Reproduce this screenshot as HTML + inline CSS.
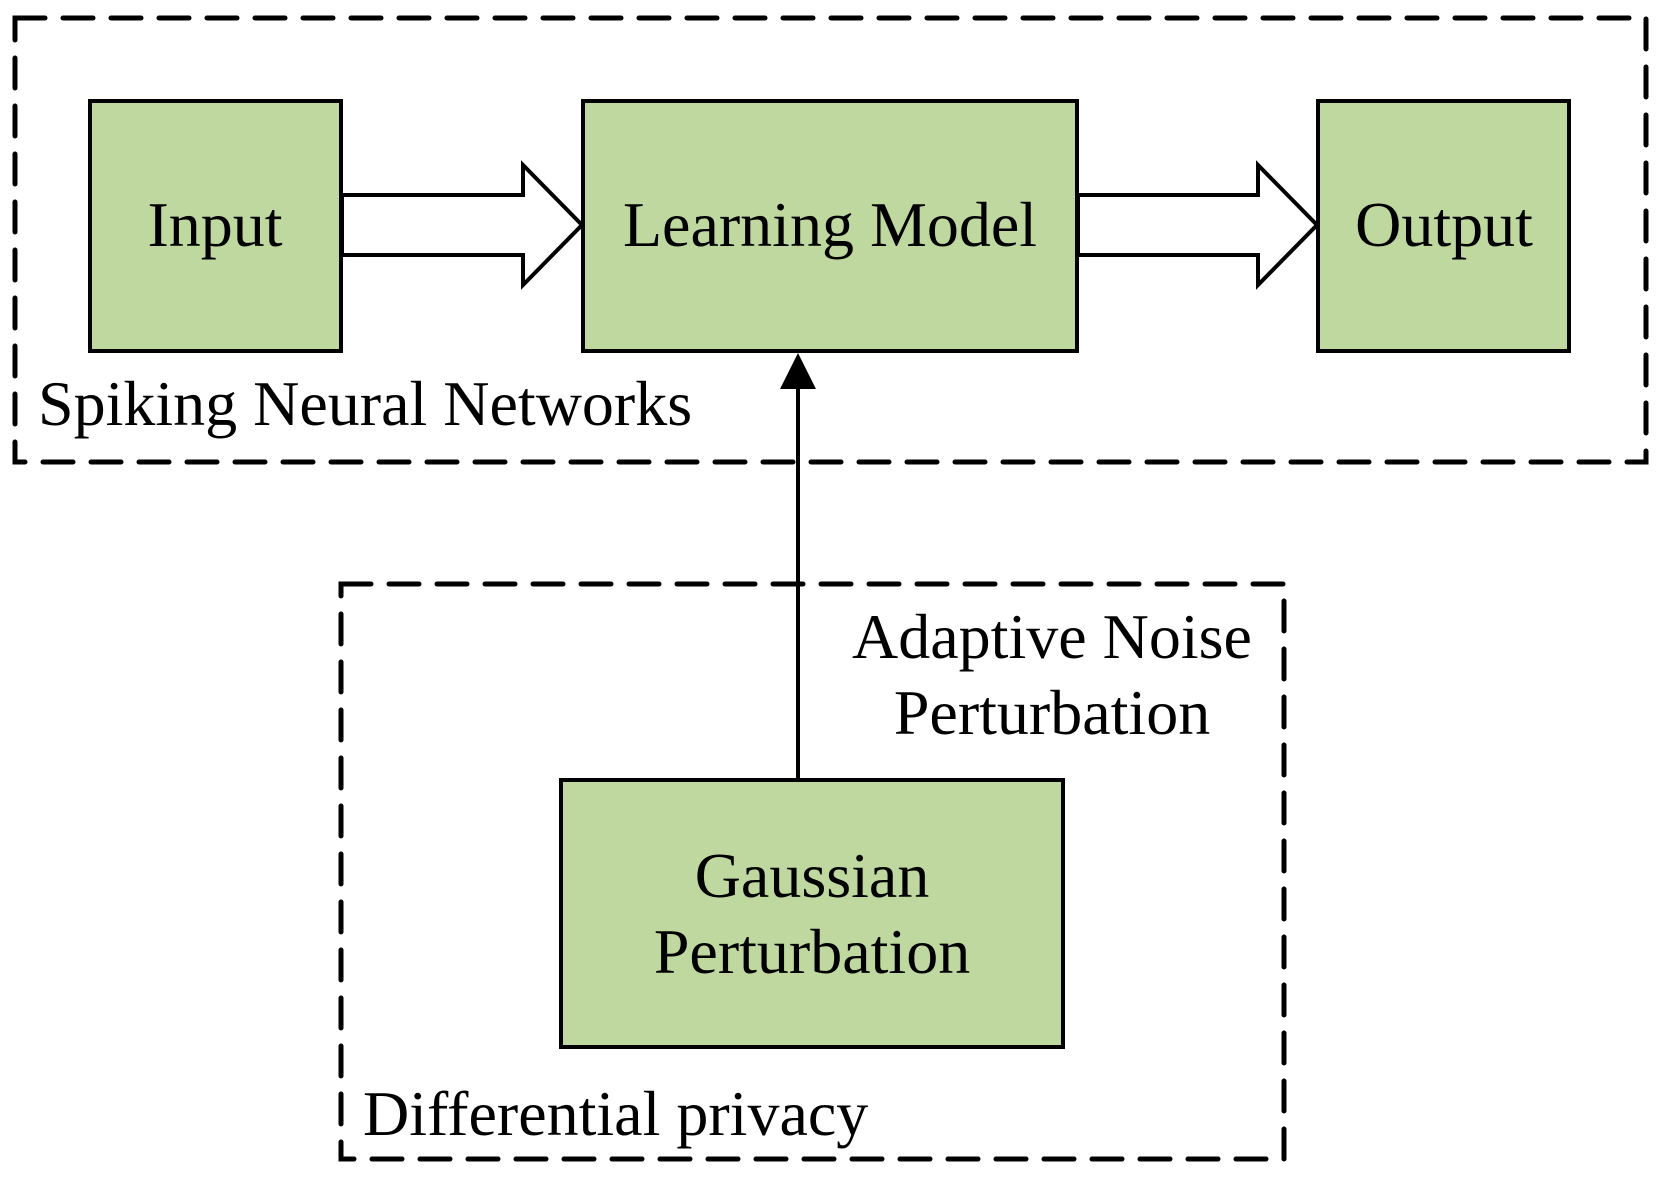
<!DOCTYPE html>
<html><head><style>
html,body{margin:0;padding:0;background:#fff;}
svg{display:block;}
text{font-family:"Liberation Serif",serif;fill:#000;}
</style></head><body>
<svg width="1662" height="1177" viewBox="0 0 1662 1177">
<g fill="none" stroke="#000" stroke-width="5" stroke-dasharray="30 18" stroke-linecap="round">
<rect x="15" y="18" width="1631" height="444"/>
<rect x="341" y="584" width="943" height="575"/>
</g>
<g fill="#bfd89f" stroke="#000" stroke-width="4">
<rect x="90" y="101" width="251" height="250"/>
<rect x="583" y="101" width="494" height="250"/>
<rect x="1318" y="101" width="251" height="250"/>
<rect x="561" y="780" width="502" height="267"/>
</g>
<g fill="#fff" stroke="#000" stroke-width="4" stroke-linejoin="miter">
<polygon points="342,195 523,195 523,165 582,225 523,285 523,255 342,255"/>
<polygon points="1078,195 1258,195 1258,165 1317,225 1258,285 1258,255 1078,255"/>
</g>
<line x1="798" y1="780" x2="798" y2="380" stroke="#000" stroke-width="4"/>
<polygon points="798,353 780,389 816,389" fill="#000"/>
<g font-size="64" text-anchor="middle">
<text x="215" y="246">Input</text>
<text x="830" y="246">Learning Model</text>
<text x="1444" y="246">Output</text>
<text x="812" y="897">Gaussian</text>
<text x="812" y="973">Perturbation</text>
<text x="1052" y="658">Adaptive Noise</text>
<text x="1052" y="734">Perturbation</text>
</g>
<g font-size="64">
<text x="38" y="425">Spiking Neural Networks</text>
<text x="363" y="1135">Differential privacy</text>
</g>
</svg>
</body></html>
